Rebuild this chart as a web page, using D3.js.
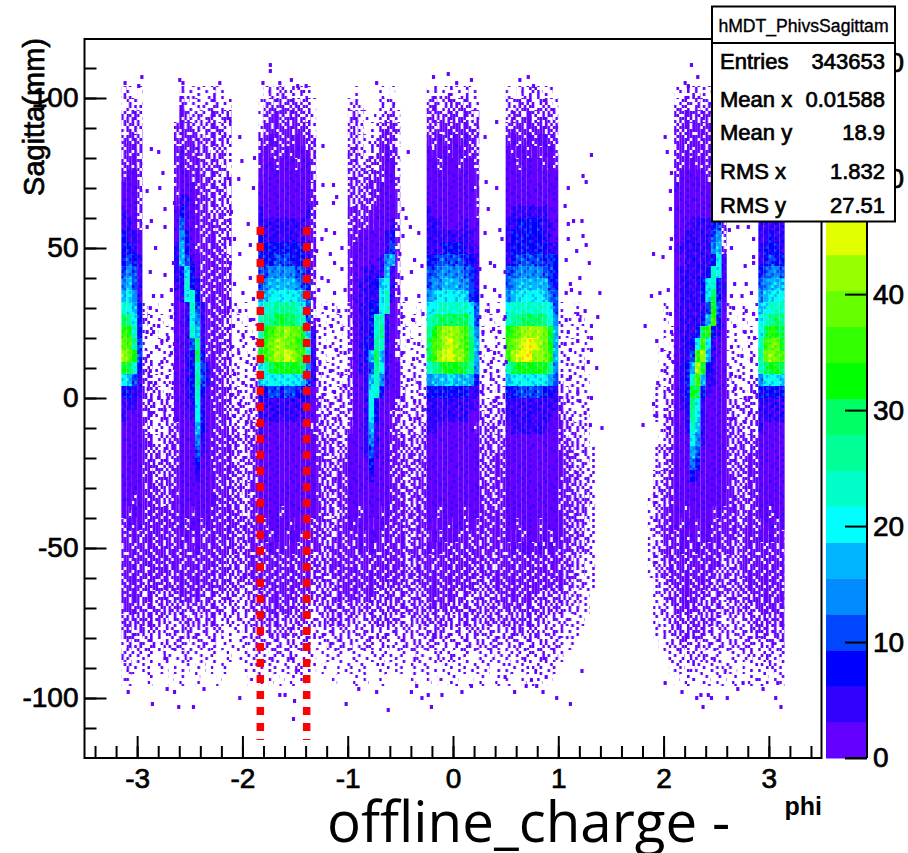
<!DOCTYPE html>
<html><head><meta charset="utf-8">
<script src="https://cdn.jsdelivr.net/npm/d3@7/dist/d3.min.js"></script>
<style>
html,body{margin:0;padding:0;background:#fff;overflow:hidden}
svg{display:block}
text{font-family:"Liberation Sans",Arial,sans-serif;fill:#000;stroke:#000;stroke-width:.7px}
</style></head><body>
<div id="chart"></div>
<script>
// column groups across phi, each 0.05 wide, starting at phi = -3.15
const groupLengths = [4,7,10,5,11,6,10,5,10,5,10,22,10,6,5];
// sagitta row centres, 4 mm tall: read top to bottom
const rowCentres = d3.range(102,-95,-4);
// 0 empty; 1-4 rising occupancy below one entry per bin; a.. = z colour band
const sparseLevels = {"0":0,"1":0.15,"2":0.35,"3":0.6,"4":0.85};
const bandLetters = "abcdefghijklmnopqrst";
const densityRows = [
"2101||2111112110||01213121210||0100001010||1211211211||1012222110||1122211100||10100",
"1221||3212122211||12323333221||1210002120||2322323221||2233322321||2222322210||21211",
"2332||4322223233||13444344321||2321012231||3333343332||2333433332||3343434320||33333",
"2332|0000003|4432233322||14444444431||2310113442||3344444433||3444444433||3344444321||33333",
"3443|0000003|4443323332||34a4444a443||2321124441||44a44a4a43||4a44a4aa43||3444444322||44444",
"3443|0000004|a443332331||4a444a4aa43||3321224a42||a4aa4aa443||a4aa4a4aa3||4444444431||44444",
"4443|0000004|a444333321||4aa4aaa4aa3||3322234aa2||aa4aaa4aa3||aa4aaaa4a4||444a444331||aaaaa",
"4aa3|0000004|aa44433322||4aaaaaaaaa3||3333344aa2||aaaaaaaaa4||aaaaaaaaaa||4aaaaa4431||aaaaa",
"aaa3|0000004|aaa4433332||aaaaaaaaaa4||333344aaa2||aaaaaaaaa4||aaaaaaaaaa||aaaaaaaaa2||aaaaa",
"aaa3|0000004|bba4433332||aaaaaaaaaa4||333344aaa3||aaaaaaaaa4||aaaaaaaaaa||aaaaaaaaa2||aaaaa",
"baa3|000000a|cba4433332||baaaaaaaab4||44344aaaa3||baaaaaaaa4||abbbbbbbaa||aaaaaaaaa3||aaaaa",
"bba3|000000a|dba4444333||bbbbbbbbba4||34444aaab3||bbbaaaabaa||bbcccccbba||aaabbbbcd3||bbbbb",
"cbba|000000a|eca4444333||cbbbbbbbba4||44aaaaabc3||bbbbbbbbba||bccccccbba||aabbbbbde3||bbcbb",
"ccba|000000b|fca4444432||cccccccccb4||4aaaaaabd3||bbbccccbba||bcccccccbb||abbbbbbef3||bcccb",
"cdcb|000000b|fdba444443||cccdddcccb4||4aaaaabef3||ccdddddccb||bcdddddcdc||aabbbbbcgb||bcdcc",
"dedb|000000b|cgca444443||ddeeeeeddb4||4aabbbbfb3||ddeeeeeddb||ddeeeeeddc||abbbbbchgb||cdeed",
"efdb|000000b|bhcb444443||defffffedc3||4abbbcfgb3||deefffeedb||deffffffdc||abbbbcghcb||defff",
"fgeb|000000a|bghc444443||efggggggfd3||4abbbbghb3||efgggggfdc||efgggggfed||abbbbcgjcb||efggg",
"hgfc|101001a|abhdb44444|10100|ghhiiiihgd3|010101|3abbccgha4|10010|gghhhhhhgd|01010|ghhhhhhhgd|1001000000000000000010|abbbbbdkda|100101|fghhh",
"jigc|211101a|abgeb44433|11011|hiijkjjihd3|101110|3abbchhba4|10101|hijjjjjjhd|01101|hiijjjjihe|1010100000000000000010|abbbbcflca|101101|ghiji",
"lkhc|111011a|abhfb44433|01110|hklmmnmmkfb|110101|3abbchiba3|11010|ikmnnnmlie|10110|klmnnnnmkf|1101010000000000000011|abbbcjlcba|110110|gjlkj",
"mlid|101111a|abdib44433|11101|jlmnnmmlkgb|101110|3abcbihba3|01101|jlmnonmljf|11011|lmnoponmkf|1011010000000000000101|abbcglgbaa|011011|hlmmk",
"nmkd|211111a|abcjc44433|11011|klmnnonmlhb|110111|3abcfjfba3|11011|jlnoonnljf|10111|lnoppnnmlf|1101100000000000000111|abbdlnfbaa|111011|imnml",
"kjhc|221111a|abchdb4433|11111|ghjkkkkkjeb|211111|3abbdigbaa|11111|hijkkkkjie|11101|hjkkkkkkie|1111100000000000000111|abcfnkcbaa|111111|hjkkj",
"gfdb|222112a|abcidb4433|21112|fgggggggfdb|211112|3aabfhebaa|11211|efffgffffc|11211|fgggggggfd|2111110000000000000112|abchlfbbaa|211112|egggf",
"ccbb|322212a|abchca4443|22122|ccddcddccba|221122|3aabghcaaa|21122|ccccccccbb|21122|ccdddddccb|2211110000000000001122|abckjcbaaa|221122|ccccc",
"bbba|332222a|abbgba4443|22122|bbbbbbbbbba|322222|3aabgcaaa3|22222|bbbbbbbbba|22222|bbbbbbbbbb|3211110000000000001122|abbjgbaaaa|222222|bbbbb",
"baaa|332222a|aabgca4443|22222|bbbbbbbbbaa|322222|3aabgcaa43|22222|bbbbbbbbaa|32222|bbbbbbbbba|3221110000000000001123|aabigbaaaa|322222|bbbbb",
"aaaa|3211223|aaafca4443|22233|baaaaaaaaa4|332222|4aabfbaa43|22223|bbaaaaaaa4|33322|abbbbbbbaa|4322210000000000000123|aabhfbaaaa|332222|baaaa",
"aaaa|4322233|aaaeba4444|32333|aaaaaaaaaaa|333223|aaabebaa44|33333|aaaaaaaaaa|33333|aaaaaaaaaa|4322210000000000000123|aaagebaaaa|333333|aaaaa",
"aaaa|4332333|aaadba4444|32234|aaaaaaaaaaa|333233|aaabdbaa44|33333|aaaaaaaaaa|33334|aaaaaaaaaa|4432221000000000001233|aaafdaaaaa|333334|aaaaa",
"aaaa|4433334|aaacaa4444|32234|aaaaaaaaaaa|433334|aaaacaaa44|33334|aaaaaaaaaa|33344|aaaaaaaaaa|4432221000000000001233|aaaecaaaaa|333344|aaaaa",
"aaaa|4433344|aaabaa4444|33234|aaaaaaaaaaa|433344|aaaabaaa44|33334|aaaaaaaaaa|33344|aaaaaaaaaa|4433221000000000002334|aaacbaaaaa|433344|aaaaa",
"aaaa|4443344|aaaaaa4444|33244|aaaaaaaaaaa|433344|aaaaaaaa44|33344|aaaaaaaaaa|44344|aaaaaaaaaa|4433221000000000002334|aaaaaaaaaa|433344|aaaaa",
"aa4a|4443344|aaaaaaa444|33234|aaaaaaaaaaa|433234|aaaaaaaa44|43344|aaaaaaaaaa|44344|aaaaaaaaaa|4433321000000000012334|aaaaaaaaaa|443344|aaaaa",
"a4aa|4444444|aa4aaa4444|43234|aaaa4aaaaaa|433234|aa4aaa4a44|43344|aa4aaaa4aa|44444|aaaaaaaaaa|4433321000000000012344|aa4aaaa4a4|443344|aa4aa",
"4a4a|4444444|a4aa4a4444|43344|a4aaaa4aa44|433344|a4aa4aa444|43344|a4aa4aa4a4|44444|aa4aaa4aaa|4433321000000000012344|a4aa4aa444|443444|4aa4a",
"4444|4444444|4a4a444444|43344|4a4aa4aa444|433344|44a4aa4444|43344|4a4a4a4444|44444|a4a4aa4a4a|4433321000000000012344|4a4a4aa444|443444|a4a44",
"4444|4444444|444a444444|43344|44a4a4a4444|433444|44a4a44444|43444|a4a4444444|44444|4a4aa4a4a4|4433321000000000012344|4a44a44444|433444|44444",
"4444|4444444|4444444443|33344|44444444443|333444|4444444444|43344|4444444444|44344|4444444444|4332211000000000012334|4444444443|333444|44444",
"4444|3444434|4444444343|33344|44444444443|333444|4444444444|43344|4444444443|44344|4444444444|4332211000000000012334|4444444433|333444|44444",
"4444|3443434|4444444343|33234|44444444443|333344|4444444344|33334|4444444443|33344|4444444443|4332211000000000001233|4444444333|333344|44444",
"4444|3433333|4444333333|32233|34444444433|333344|4444433343|33333|4444443333|33334|4444443333|3322110000000000001233|4444433333|333334|44444",
"4443|3333333|3333333322|22233|33444443332|233333|3333333333|33333|3434333333|33333|4343433333|3222110000000000001222|4444333332|233333|44443",
"3333|3333322|3323233222|22223|33333333322|223333|3322333332|22333|3333323333|23333|3333333322|2211100000000000001222|3333333322|222233|33333",
"3323|2322222|2322222211|11222|22333332222|122222|2222222222|22222|2332222223|22222|2332332222|2111000000000000001122|3333332222|222223|33233",
"2322|2221222|2212212111|11122|22222222221|112222|2122212211|22222|2222122222|22222|2222222222|1110000000000000000112|2322322222|222222|22322",
"2212|1211211|1211111101|01112|11222221111|011111|1111112111|11211|1121211211|11211|2122122212|1000000000000000000011|2212221211|111221|22212",
"1211|1101101|1101101010|00111|11111112111|010011|1011011101|10111|1101101111|11011|1111121111|0000000000000000000001|1212111112|110111|11211",
"1100|0100010|1001000100|00010|10101010100|000100|0101001000|00100|1010110010|10010|1001011010||1011011011|010011|11011"
];
// isolated single entries: [phi, sagitta]
const isolatedEntries = [
[-2.88,83],[-2.81,82],[-2.77,75],[-2.92,69],[-2.80,70],[-2.66,65],[-2.75,63],[-2.88,59],[-2.75,57],[-2.92,57],[-2.64,53],[-2.84,50],[-2.89,42],[-2.75,41],[-2.67,45],[-2.86,34],[-2.78,34],[-2.69,36],[-2.89,30],[-2.69,27],[-2.81,24],[-2.92,22],[-2.86,22],[-2.72,20],[-2.66,18],[-2.78,19],[-2.91,14],[-2.83,17],[-2.69,15],[-2.78,12],[-2.89,9],[-2.66,10],[-2.84,5],[-2.73,7],[-2.91,3],[-2.67,5],[-2.81,0],[-2.72,0],[-2.88,-5],[-2.64,-2],[-2.75,-4],[-2.66,-7],
[-2.04,87],[-1.90,80],[-2.02,79],[-2.05,73],[-1.91,70],[-2.12,62],[-1.96,58],[-2.09,53],[-1.94,51],[-2.04,48],[-2.13,45],[-1.94,40],[-2.09,38],[-2.01,35],[-1.91,33],[-2.15,29],[-2.04,29],[-1.94,26],[-2.10,24],[-2.01,21],[-1.91,20],[-2.12,17],[-2.05,15],[-1.97,12],[-1.90,10],[-2.09,8],[-2.01,5],[-1.93,4],[-2.12,1],[-2.04,-2],[-1.94,-4],[-2.09,-6],[-1.97,-8],
[-1.25,84],[-1.25,71],[-1.15,71],[-1.12,67],[-1.15,65],[-1.31,65],[-1.22,56],[-1.14,55],[-1.26,53],[-1.18,48],[-1.07,50],[-1.31,49],[-1.14,45],[-1.26,40],[-1.20,39],[-1.07,43],[-1.29,36],[-1.14,35],[-1.04,36],[-1.33,33],[-1.22,30],[-1.10,29],[-1.29,26],[-1.17,24],[-1.07,23],[-1.33,19],[-1.23,17],[-1.12,16],[-1.04,15],[-1.28,12],[-1.18,9],[-1.07,8],[-1.33,5],[-1.23,3],[-1.14,2],[-1.04,4],[-1.29,-2],[-1.18,-5],[-1.09,-7],[-1.26,-8],
[-.44,82],[-.49,63],[-.46,60],[-.42,57],[-.49,54],[-.52,48],[-.34,55],[-.38,46],[-.50,40],[-.41,42],[-.31,44],[-.53,35],[-.46,33],[-.34,34],[-.50,27],[-.39,26],[-.30,28],[-.53,22],[-.44,19],[-.34,18],[-.50,15],[-.39,13],[-.30,14],[-.53,8],[-.44,6],[-.33,5],[-.50,0],[-.38,-1],[-.30,-4],[-.53,-6],[-.42,-7],
[.32,63],[.30,72],[.40,70],[.29,87],[.40,92],[.43,56],[.29,55],[.45,53],[.34,45],[.38,44],[.24,43],[.48,42],[.29,37],[.38,36],[.26,34],[.43,34],[.32,29],[.41,29],[.24,27],[.48,27],[.37,23],[.27,22],[.43,22],[.32,16],[.24,15],[.38,15],[.48,17],[.29,9],[.41,9],[.35,12],[.49,12],[.26,2],[.38,-1],[.46,-4],[.32,-6],[.43,-8],
[1.30,81],[1.22,74],[1.25,72],[1.08,70],[1.13,59],[1.21,59],[1.08,58],[1.05,64],[1.22,54],[1.08,53],[1.16,49],[1.25,51],[1.06,46],[1.28,45],[1.10,38],[1.19,40],[1.06,35],[1.19,35],[1.11,36],[1.38,35],[1.24,29],[1.17,28],[1.36,27],[1.06,26],[1.30,24],[1.19,26],[1.08,22],[1.17,19],[1.30,20],[1.05,18],[1.10,16],[1.22,16],[1.30,16],[1.08,13],[1.27,12],[1.35,10],[1.22,10],[1.10,7],[1.17,2],[1.30,0],[1.19,-1],[1.08,-1],[1.24,-5],[1.10,-7],[1.40,-10],[1.29,-9],
[2.0,87],[2.02,82],[2.06,75],[2.05,69],[2.05,63],[2.06,53],[1.89,48],[1.98,47],[2.05,50],[1.87,34],[1.95,35],[2.03,36],[2.05,28],[1.81,24],[1.92,19],[1.97,16],[2.06,22],[2.03,14],[2.0,9],[2.08,12],[1.93,5],[2.03,3],[1.89,-2],[1.92,-6],[2.0,-6],[1.79,-9],[2.03,-10],
[2.61,56],[2.69,57],[2.79,57],[2.84,53],[2.63,50],[2.84,47],[2.76,44],[2.66,38],[2.77,38],[2.84,45],[2.63,34],[2.73,34],[2.82,35],[2.65,30],[2.77,29],[2.84,28],[2.66,24],[2.76,22],[2.85,20],[2.63,17],[2.73,14],[2.82,13],[2.63,8],[2.71,7],[2.82,7],[2.66,3],[2.76,0],[2.85,2],[2.69,-3],[2.80,-5],[2.63,-7],[2.76,-8],
[-2.87,-102],[-2.62,-103],[-2.48,-103],[-2.04,-100],[-1.61,-99],[-1.66,-99],[-1.52,-101],[-1.53,-107],[-1.03,-102],[-.63,-104],[-.31,-100],[-.22,-103],[-.12,-99],[-.25,-99],[-3.10,-98],[-2.73,-97],[-2.66,-98],[-2.38,-97],[-.91,-97],[-.74,-98],[-.41,-98],[-.36,-96],
[.07,-98],[.57,-98],[.84,-98],[.97,-100],[1.10,-102],[.68,-96],[.78,-96],[.73,-94],[2.16,-98],[2.30,-100],[2.36,-103],[2.34,-99],[2.41,-99],[2.44,-100],[2.59,-100],[2.69,-97],[2.93,-97],[3.05,-100],[3.10,-103],[3.07,-95],[2.74,-95],[1.21,-91],[2.0,-95],[.16,-96],[.48,-93],[.87,-93],
[-1.75,111],[-1.75,109],[-1.55,106],[-2.97,107],[-1.82,105],[-.74,105],[-.20,107],[-.06,108],[2.25,111],[.70,107],[.16,106],[2.19,105],[2.31,107],[-2.61,106],[-3.13,105],[-2.23,105],[-1.41,104],[-2.58,105],[-1.66,105],[-1.49,104],[.02,105],[.62,106],[.75,104],[2.22,104],[-3.0,104]
];
// red dashed selection lines: phi position and sagitta span
const selectionPhi = [-1.83,-1.39];
const selectionSpan = [57,-114];
// z colour bands, bottom to top
const zBandColors = ["#6400ff","#3200ff","#0000ff","#0046ff","#008cff","#00b4ff","#00ffff","#00ffc8","#00ff96","#00ff64","#00ff00","#32ff00","#66ff00","#96ff00","#e1ff00","#ffff00","#ffc800","#ff9600","#ff5000","#ff0000"];
const zBandWidth = 3.1;
const xMajorTicks = [-3,-2,-1,0,1,2,3];
const xMinorTicks = d3.range(-34,35,2).map(d=>d/10);
const yMajorTicks = [-100,-50,0,50,100];
const yMinorTicks = d3.range(-110,111,10);
const zTicks = [0,10,20,30,40,50,60];
const statsTitle = "hMDT_PhivsSagittam";
const statsLabels = ["Entries","Mean x","Mean y","RMS x","RMS y"];
const statsValues = ["343653","0.01588","18.9","1.832","27.51"];
// fixed stipple used as the fill style of a cell: the grain of the 2-D bins
const grainTile = [
"352415324153425135243142",
"413524153245135241534251",
"245132451324513425132453",
"134253124531243512435124",
"521435241352413524153245",
"342514352145324153245134",
"153243125343152435124351",
"425135241254341523431523",
"314251342315254153245142",
"243153245142433251345235",
"135342153425142435124153",
"452135234153235124253342",
"312454315243154352431251",
"243123452135423145312435",
"514352143524315234254123",
"325241534123452413521354",
"143425312543124352143245",
"451352453124351435234132",
"324213541352442513542415",
"153245123445321245313524"
];

const W=908,H=853;
const svg=d3.select("#chart").append("svg").attr("width",W).attr("height",H);
const x=d3.scaleLinear().domain([-3.5,3.5]).range([84.5,821.5]);
const y=d3.scaleLinear().domain([-120,120]).range([758,38]);
const z=d3.scaleLinear().domain([0,62]).range([758,39]);
const zColor=d3.scaleThreshold().domain(d3.range(1,20).map(i=>i*zBandWidth)).range(zBandColors);

// stipple patterns
const binW=x(0.025)-x(0), binH=y(0)-y(1);
const grainCells=[];
grainTile.forEach((r,j)=>[...r].forEach((c,i)=>grainCells.push({i,j,g:+c})));
const defs=svg.append("defs");
function makePattern(id,bg,colorOf){
  const p=defs.append("pattern").attr("id",id).attr("patternUnits","userSpaceOnUse")
    .attr("width",binW*grainTile[0].length).attr("height",binH*grainTile.length);
  if(bg)p.append("rect").attr("width",binW*grainTile[0].length).attr("height",binH*grainTile.length).attr("fill",bg);
  p.selectAll("rect.g").data(grainCells.filter(d=>colorOf(d.g))).join("rect").attr("class","g")
    .attr("x",d=>d.i*binW).attr("y",d=>d.j*binH).attr("width",binW).attr("height",binH)
    .attr("fill",d=>colorOf(d.g));
}
["1","2","3","4"].forEach(l=>makePattern("occ"+l,null,g=>g<=+l?zBandColors[0]:null));
zBandColors.forEach((c,i)=>makePattern("band"+i,c,g=>g===1?zBandColors[Math.min(i+1,19)]:(g===5&&i>0?zBandColors[i-1]:null)));

const cells=[];
densityRows.forEach((row,ri)=>{
  const full=row.split("|").map((g,i)=>g.padEnd(groupLengths[i],"0")).join("");
  [...full].forEach((c,ci)=>{
    if(c==="0")return;
    const v=c in sparseLevels?sparseLevels[c]:(bandLetters.indexOf(c)+0.5)*zBandWidth;
    const fill=c in sparseLevels?`url(#occ${c})`:`url(#band${zBandColors.indexOf(zColor(v))})`;
    cells.push({phi:-3.15+0.05*ci,s:rowCentres[ri],v,fill});
  });
});
const plot=svg.append("g");
plot.selectAll("rect.cell").data(cells).join("rect").attr("class","cell")
  .attr("x",d=>x(d.phi)).attr("y",d=>y(d.s+2))
  .attr("width",x(0.05)-x(0)).attr("height",y(0)-y(4))
  .attr("fill",d=>d.fill);
plot.selectAll("rect.entry").data(isolatedEntries).join("rect").attr("class","entry")
  .attr("x",d=>x(d[0])).attr("y",d=>y(d[1]+0.65))
  .attr("width",x(0.03)-x(0)).attr("height",y(0)-y(1.3))
  .attr("fill",zBandColors[0]);

plot.selectAll("line.sel").data(selectionPhi).join("line").attr("class","sel")
  .attr("x1",d=>x(d)).attr("x2",d=>x(d))
  .attr("y1",y(selectionSpan[0])).attr("y2",y(selectionSpan[1]))
  .attr("stroke","#ff0000").attr("stroke-width",7.5).attr("stroke-dasharray","8 8");

// frame
svg.append("rect").attr("x",x(-3.5)).attr("y",y(120)+1).attr("width",x(3.5)-x(-3.5)).attr("height",y(-120)-y(120)-1)
  .attr("fill","none").attr("stroke","#000").attr("stroke-width",2);

function style(g,size){
  g.select(".domain").remove();
  g.selectAll("line").attr("stroke","#000").attr("stroke-width",2);
  if(size>0)g.selectAll("text").attr("font-size",size);
  else g.selectAll("text").remove();
}
svg.append("g").attr("transform",`translate(0,${y(-120)})`)
  .call(d3.axisBottom(x).tickValues(xMinorTicks).tickSize(-12)).call(style,0);
svg.append("g").attr("transform",`translate(0,${y(-120)})`)
  .call(d3.axisBottom(x).tickValues(xMajorTicks).tickSize(-22).tickPadding(10).tickFormat(String)).call(style,28);
svg.append("g").attr("transform",`translate(${x(-3.5)},0)`)
  .call(d3.axisLeft(y).tickValues(yMinorTicks).tickSize(-12)).call(style,0);
svg.append("g").attr("transform",`translate(${x(-3.5)},0)`)
  .call(d3.axisLeft(y).tickValues(yMajorTicks).tickSize(-22).tickPadding(6).tickFormat(String)).call(style,28);

// colour bar
const barX=826,barW=41;
svg.append("g").selectAll("rect").data(zBandColors).join("rect")
  .attr("x",barX).attr("width",barW)
  .attr("y",(d,i)=>z((i+1)*zBandWidth)).attr("height",(d,i)=>z(i*zBandWidth)-z((i+1)*zBandWidth)+0.5)
  .attr("fill",d=>d);
svg.append("g").attr("transform",`translate(${barX+barW},0)`)
  .call(d3.axisRight(z).tickValues(zTicks).tickSize(-22).tickPadding(6).tickFormat(String)).call(style,28);
svg.append("line").attr("x1",barX+barW).attr("x2",barX+barW).attr("y1",z(62)).attr("y2",z(0)).attr("stroke","#000").attr("stroke-width",2);
svg.append("line").attr("x1",barX+barW-22).attr("x2",barX+barW).attr("y1",z(0)).attr("y2",z(0)).attr("stroke","#000").attr("stroke-width",2);

// axis titles
svg.append("text").attr("transform","translate(44,38) rotate(-90)").attr("text-anchor","end")
  .attr("font-size",29).text("Sagitta(mm)");
svg.append("text").attr("x",327).attr("y",842).attr("font-size",56.5)
  .style("font-family","'Open Sans','Noto Sans',sans-serif").style("stroke","none").text("offline_charge -");
svg.append("text").attr("x",822).attr("y",815).attr("text-anchor","end").attr("font-size",25).attr("font-weight","bold").style("stroke","none").text("phi");

// statistics box
const box=svg.append("g");
box.append("rect").attr("x",712).attr("y",6.5).attr("width",183).attr("height",215)
  .attr("fill","#fff").attr("stroke","#000").attr("stroke-width",2);
box.append("line").attr("x1",712).attr("x2",895).attr("y1",43).attr("y2",43).attr("stroke","#000").attr("stroke-width",2);
box.append("text").attr("x",803.5).attr("y",32).attr("text-anchor","middle").attr("font-size",17.6).style("stroke-width",".35px").text(statsTitle);
const rowBase=[69,107,140,179,213];
box.selectAll("text.lab").data(statsLabels).join("text").attr("class","lab")
  .attr("x",720).attr("y",(d,i)=>rowBase[i]).attr("font-size",22).text(d=>d);
box.selectAll("text.val").data(statsValues).join("text").attr("class","val")
  .attr("x",885).attr("y",(d,i)=>rowBase[i]).attr("text-anchor","end").attr("font-size",22).text(d=>d);
</script>
</body></html>
